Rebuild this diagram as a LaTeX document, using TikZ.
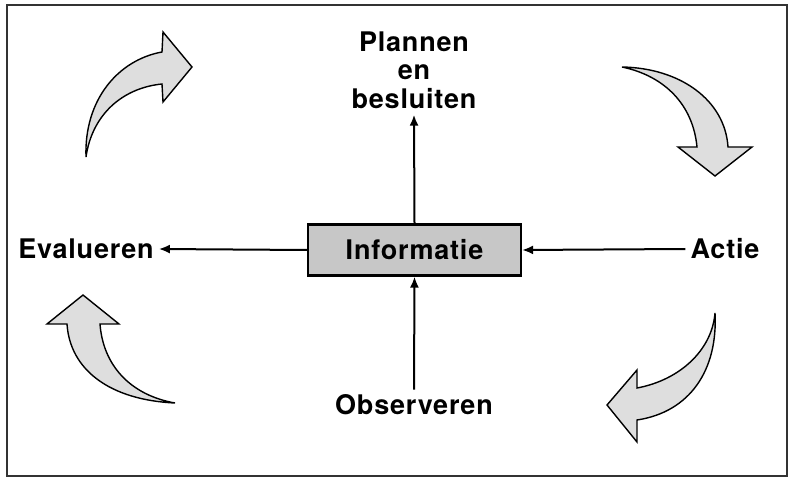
\documentclass[tikz,border=0pt]{standalone}
\usepackage{fontspec}
\setmainfont{TeX Gyre Heros}[LetterSpace=3]
\usetikzlibrary{arrows.meta}
\begin{document}
\begin{tikzpicture}[x=1pt,y=-1pt,
  lbl/.style={font=\fontsize{27}{28.5}\selectfont\bfseries, inner sep=5pt},
  infobox/.style={draw, line width=2.2pt, fill=black!22, minimum width=213pt, minimum height=51pt, font=\fontsize{27}{28}\selectfont\bfseries, inner sep=0pt},
  conn/.style={line width=2pt, -{Latex[length=11pt,width=9pt]}},
  blockarrow/.style={draw, line width=1.4pt, line join=miter, fill=black!13}]
\useasboundingbox (0,0) rectangle (792,478);
\draw[line width=1.3pt, black!80] (7,5) rectangle (787,476);
% nodes
\node[infobox] (info) at (414.5,250) {Informatie};
\node[lbl] (eval) at (86,249) {Evalueren};
\node[lbl] (actie) at (725,249) {Actie};
\node[lbl] (obs) at (414,405) {Observeren};
\node[lbl, align=center, inner sep=6pt] (plan) at (414,70) {Plannen\\en\\besluiten};
% connectors
\draw[conn] (info.north) -- (plan.south);
\draw[conn] (info.west) -- (eval.east);
\draw[conn] (actie.west) -- (info.east);
\draw[conn] (obs.north) -- (info.south);
% curved block arrows
\draw[blockarrow] (86,157) .. controls (84,100) and (118,60) .. (162,52) -- (163,32) -- (192,67) -- (163,102) -- (162,84) .. controls (122,88) and (92,115) .. (86,157) -- cycle;
\draw[blockarrow] (622,67) .. controls (680,68) and (725,100) .. (728,147) -- (752,147) -- (715,176) -- (678,147) -- (697,147) .. controls (693,105) and (665,76) .. (622,67) -- cycle;
\draw[blockarrow] (175,403) .. controls (110,400) and (70,370) .. (67,324) -- (47,324) -- (83,295) -- (119,324) -- (100,324) .. controls (103,365) and (130,395) .. (175,403) -- cycle;
\draw[blockarrow] (715,313) .. controls (718,370) and (690,412) .. (637,420) -- (637,442) -- (607,405) -- (637,370) -- (637,388) .. controls (680,380) and (712,350) .. (715,313) -- cycle;
\end{tikzpicture}
\end{document}
